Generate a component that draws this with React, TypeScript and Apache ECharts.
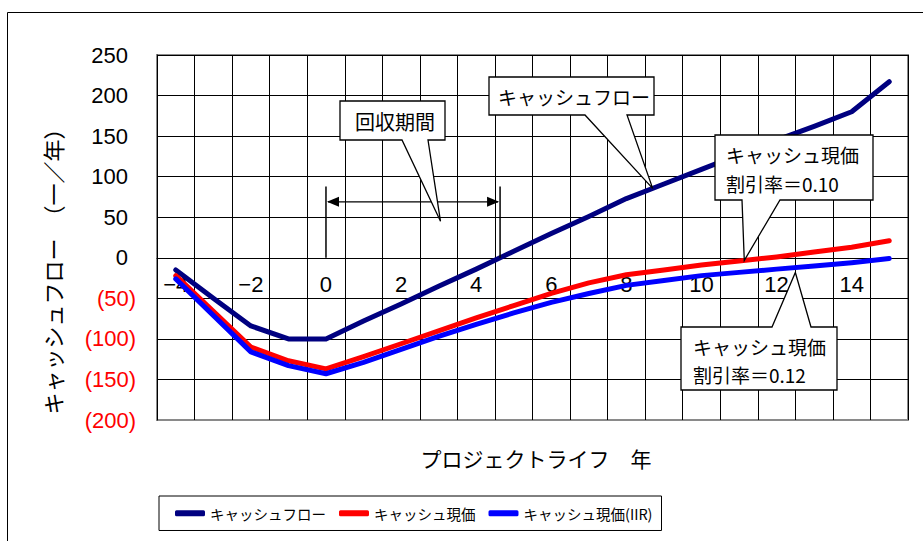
import React, { useEffect, useRef } from 'react';
import * as echarts from 'echarts';

// ---- data ----
const years = ['-4', '-3', '-2', '-1', '0', '1', '2', '3', '4', '5', '6', '7', '8', '9', '10', '11', '12', '13', '14', '15'];
const cashFlow = [-15, -50, -84, -100, -100, -78, -57, -35, -14, 8, 30, 51, 73, 91, 109, 127, 145, 162, 180, 217];
const presentValue10 = [-22, -66, -110, -127, -137, -122, -106, -90, -74, -59, -44, -31, -21, -15, -9, -4, 1, 7, 13, 21];
const presentValueIRR = [-26, -71, -116, -133, -143, -129, -113, -97, -82, -68, -55, -44, -34, -28, -22, -18, -14, -10, -6, -1];
const seriesNames = ['キャッシュフロー', 'キャッシュ現価', 'キャッシュ現価(IIR)'];
const seriesColors = ['#000080', '#FF0000', '#0000FF'];
const yMin = -200;
const yMax = 250;
const yStep = 50;

const W = 923;
const H = 541;
const GRID = { left: 157, top: 55, right: 15, bottom: 121 };
const JP = '"Noto Sans CJK JP", "Noto Sans", sans-serif';
const LAT = '"Liberation Sans", Arial, sans-serif';

const plotW = W - GRID.left - GRID.right;
const plotH = H - GRID.top - GRID.bottom;
const firstYear = Number(years[0]);
const xPx = (yr: number) => GRID.left + ((yr - firstYear + 0.5) / years.length) * plotW;
const yPx = (v: number) => GRID.top + ((yMax - v) / (yMax - yMin)) * plotH;

function paybackYear(): number {
  for (let i = 1; i < cashFlow.length; i++) {
    if (cashFlow[i - 1] < 0 && cashFlow[i] >= 0) {
      const t = -cashFlow[i - 1] / (cashFlow[i] - cashFlow[i - 1]);
      return Number(years[i - 1]) + t;
    }
  }
  return 0;
}

function valueAt(arr: number[], yr: number): number {
  const f = yr - firstYear;
  const i = Math.floor(f);
  const t = f - i;
  if (i >= arr.length - 1) return arr[arr.length - 1];
  return arr[i] + (arr[i + 1] - arr[i]) * t;
}

function buildGraphics(): any[] {
  const g: any[] = [];
  const stroke = { stroke: '#000', lineWidth: 1.3, fill: '#fff' };
  // outer chart border
  g.push({ type: 'rect', silent: true, z: -10, shape: { x: 7.5, y: 12.5, width: 940, height: 560 }, style: { fill: 'none', stroke: '#000', lineWidth: 1 } });

  // axis titles
  g.push({ type: 'text', silent: true, x: 536, y: 458, style: { text: 'プロジェクトライフ　年', font: `21px ${JP}`, fill: '#000', textAlign: 'center', textVerticalAlign: 'middle' } });
  g.push({ type: 'text', silent: true, x: 52, y: 266, rotation: Math.PI / 2, style: { text: 'キャッシュフロー　（一／年）', font: `22px ${JP}`, fill: '#000', textAlign: 'center', textVerticalAlign: 'middle' } });

  // payback period arrow
  const pb = paybackYear();
  const x0 = xPx(0);
  const x1 = xPx(pb);
  const yTop = yPx(88);
  const yBase = yPx(0);
  const yArr = yPx(69);
  g.push({ type: 'line', silent: true, z: 50, shape: { x1: x0, y1: yTop, x2: x0, y2: yBase }, style: { stroke: '#000', lineWidth: 1.5 } });
  g.push({ type: 'line', silent: true, z: 50, shape: { x1: x1, y1: yTop, x2: x1, y2: yBase }, style: { stroke: '#000', lineWidth: 1.5 } });
  g.push({ type: 'line', silent: true, z: 50, shape: { x1: x0 + 2, y1: yArr, x2: x1 - 2, y2: yArr }, style: { stroke: '#000', lineWidth: 1.3 } });
  g.push({ type: 'polygon', silent: true, z: 50, shape: { points: [[x0 + 1, yArr], [x0 + 13, yArr - 5], [x0 + 13, yArr + 5]] }, style: { fill: '#000' } });
  g.push({ type: 'polygon', silent: true, z: 50, shape: { points: [[x1 - 1, yArr], [x1 - 13, yArr - 5], [x1 - 13, yArr + 5]] }, style: { fill: '#000' } });

  // callout: 回収期間
  {
    const tipX = xPx(3.05), tipY = yPx(45);
    g.push({ type: 'polygon', silent: true, z: 60, shape: { points: [[340, 101], [445, 101], [445, 140], [428, 140], [tipX, tipY], [402, 140], [340, 140]] }, style: stroke });
    g.push({ type: 'text', silent: true, z: 61, x: 395, y: 121, style: { text: '回収期間', font: `20px ${JP}`, fill: '#000', textAlign: 'center', textVerticalAlign: 'middle' } });
  }
  // callout: キャッシュフロー
  {
    const yr = 8.7;
    const tipX = xPx(yr), tipY = yPx(valueAt(cashFlow, yr));
    g.push({ type: 'polygon', silent: true, z: 60, shape: { points: [[489, 77], [654, 77], [654, 115], [627, 115], [tipX, tipY], [585, 115], [489, 115]] }, style: stroke });
    g.push({ type: 'text', silent: true, z: 61, x: 574, y: 96, style: { text: 'キャッシュフロー', font: `19px ${JP}`, fill: '#000', textAlign: 'center', textVerticalAlign: 'middle' } });
  }
  // callout: 割引率 0.10
  {
    const yr = 11.14;
    const tipX = xPx(yr), tipY = yPx(valueAt(presentValue10, yr));
    g.push({ type: 'polygon', silent: true, z: 60, shape: { points: [[715, 135], [873, 135], [873, 200], [780, 200], [tipX, tipY], [742, 200], [715, 200]] }, style: stroke });
    g.push({ type: 'text', silent: true, z: 61, x: 726, y: 154, style: { text: 'キャッシュ現価', font: `19px ${JP}`, fill: '#000', textAlign: 'left', textVerticalAlign: 'middle' } });
    g.push({ type: 'text', silent: true, z: 61, x: 726, y: 183, style: { text: '割引率＝0.10', font: `19px ${JP}`, fill: '#000', textAlign: 'left', textVerticalAlign: 'middle' } });
  }
  // callout: 割引率 0.12
  {
    const yr = 12.5;
    const tipX = xPx(yr), tipY = yPx(valueAt(presentValueIRR, yr)) + 5;
    g.push({ type: 'polygon', silent: true, z: 60, shape: { points: [[681, 327], [772, 327], [tipX, tipY], [811, 327], [837, 327], [837, 390], [681, 390]] }, style: stroke });
    g.push({ type: 'text', silent: true, z: 61, x: 693, y: 346, style: { text: 'キャッシュ現価', font: `19px ${JP}`, fill: '#000', textAlign: 'left', textVerticalAlign: 'middle' } });
    g.push({ type: 'text', silent: true, z: 61, x: 693, y: 374, style: { text: '割引率＝0.12', font: `19px ${JP}`, fill: '#000', textAlign: 'left', textVerticalAlign: 'middle' } });
  }
  return g;
}

export default function App() {
  const ref = useRef<HTMLDivElement>(null);
  useEffect(() => {
    document.body.style.margin = '0';
    if (!ref.current) return;
    const chart = echarts.init(ref.current, undefined, { renderer: 'svg' });
    const series = [cashFlow, presentValue10, presentValueIRR].map((data, i) => ({
      name: seriesNames[i],
      type: 'line',
      data,
      symbol: 'none',
      color: seriesColors[i],
      lineStyle: { width: 5, color: seriesColors[i], join: 'round', cap: 'round' },
      z: 3 + i,
    }));
    const zeroOffset = yPx(0) - (H - GRID.bottom); // negative: move x axis up to value 0
    chart.setOption({
      animation: false,
      backgroundColor: '#fff',
      grid: { ...GRID, show: true, borderColor: '#8a8a8a', borderWidth: 2, backgroundColor: 'transparent' },
      xAxis: [
        {
          type: 'category',
          data: years,
          boundaryGap: true,
          position: 'bottom',
          offset: zeroOffset,
          axisLine: { onZero: false, lineStyle: { color: '#000', width: 1 } },
          axisTick: { show: false, interval: 0 },
          splitLine: { show: true, interval: 0, lineStyle: { color: '#000', width: 1 } },
          axisLabel: {
            interval: 1,
            margin: 16,
            fontSize: 22,
            fontFamily: LAT,
            color: '#000',
            formatter: (v: string) => (v.startsWith('-') ? '−' + v.slice(1) : v),
          },
        },
      ],
      yAxis: {
        type: 'value',
        min: yMin,
        max: yMax,
        interval: yStep,
        axisLine: { show: true, lineStyle: { color: '#000', width: 1 } },
        axisTick: { show: false },
        splitLine: { show: true, showMinLine: false, lineStyle: { color: '#000', width: 1 } },
        axisLabel: {
          margin: 21,
          fontSize: 22,
          fontFamily: LAT,
          formatter: (v: number) => (v < 0 ? `{n|(${-v})}` : `{p|${v}}`),
          rich: {
            n: { color: '#FF0000', fontSize: 22, fontFamily: LAT },
            p: { color: '#000', fontSize: 22, fontFamily: LAT, padding: [0, 8, 0, 0] },
          },
        },
      },
      legend: {
        data: seriesNames,
        left: 159,
        top: 496,
        orient: 'horizontal',
        icon: 'roundRect',
        itemWidth: 30,
        itemHeight: 6,
        itemGap: 13,
        borderColor: '#000',
        borderWidth: 1,
        borderRadius: 0,
        padding: [10, 9, 10, 16],
        textStyle: { fontSize: 14.5, fontFamily: JP, color: '#000' },
      },
      series,
      graphic: buildGraphics(),
    });
    return () => chart.dispose();
  }, []);
  return <div ref={ref} style={{ width: W, height: H }} />;
}
